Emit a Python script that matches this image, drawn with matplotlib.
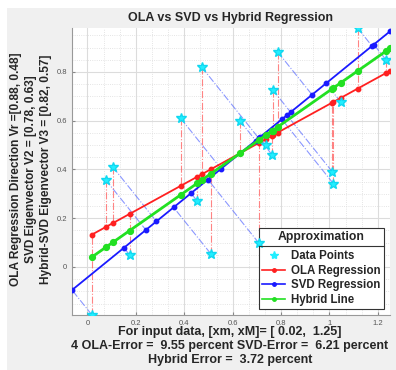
import numpy as np
import matplotlib.pyplot as plt
from matplotlib.ticker import MultipleLocator, AutoMinorLocator
from matplotlib.lines import Line2D
from matplotlib.patches import Rectangle

plt.rcParams['font.family'] = ['Liberation Sans', 'DejaVu Sans']

# data points
x_data = [0.019, 0.075, 0.105, 0.174, 0.385, 0.454, 0.472, 0.509, 0.631, 0.709,
          0.736, 0.763, 0.765, 0.786, 1.012, 1.016, 1.048, 1.116, 1.234]
y_data = [-0.197, 0.358, 0.410, 0.050, 0.610, 0.270, 0.820, 0.055, 0.598, 0.097,
          0.501, 0.460, 0.727, 0.882, 0.390, 0.342, 0.675, 0.980, 0.849]

x_range = [0.02, 1.25]
v_ola = [0.88, 0.48]
v_svd = [0.78, 0.63]
v_hyb = [0.82, 0.57]
err_ola = 9.55
err_svd = 6.21
err_hyb = 3.72

txt_col = '#262626'

x = np.array(x_data)
y = np.array(y_data)
cx, cy = x.mean(), y.mean()

# OLA and hybrid lines: points at every data x plus the end of the range
xs = np.sort(np.append(x, x_range[1]))
y_ola = cy + v_ola[1] / v_ola[0] * (xs - cx)
y_hyb = cy + v_hyb[1] / v_hyb[0] * (xs - cx)

# SVD: orthogonal projections of the points onto the eigenvector line
d = np.array(v_svd) / np.hypot(*v_svd)
t = (x - cx) * d[0] + (y - cy) * d[1]
px = cx + t * d[0]
py = cy + t * d[1]
sx = np.sort(np.append(px, x_range[1]))
sy = cy + v_svd[1] / v_svd[0] * (sx - cx)

fig = plt.figure(figsize=(3.96, 3.70), dpi=100)
fig.patch.set_facecolor('white')
fig.add_artist(Rectangle((7 / 396, 0), 1, 1 - 8 / 370, transform=fig.transFigure,
                         facecolor='#f0f0f0', edgecolor='none', zorder=-10))

ax = fig.add_axes([72 / 396, 55 / 370, 318 / 396, 287 / 370])
ax.set_facecolor('white')

# connectors
for i in range(len(x)):
    ax.plot([x[i], x[i]], [y[i], cy + v_ola[1] / v_ola[0] * (x[i] - cx)], '-.',
            color='#ff5050', alpha=0.7, lw=0.8, zorder=2)
    ax.plot([x[i], px[i]], [y[i], py[i]], '-.', color='#5a6cff', alpha=0.7, lw=0.8, zorder=2)

ax.plot(xs, y_ola, '-o', color='#ff2020', lw=1.3, ms=3.2, zorder=4)
ax.plot(sx, sy, '-o', color='#1a1aff', lw=1.3, ms=3.2, zorder=4)
ax.plot(xs, y_hyb, '-o', color='#22e022', lw=2.0, ms=4.2, zorder=5)
ax.plot(x, y, '*', color='#22eeff', ms=7, markeredgecolor='#10d8f0', zorder=6)

ax.set_xlim(px.min(), x_range[1])
ax.set_ylim(y.min(), y.max())
ax.xaxis.set_major_locator(MultipleLocator(0.2))
ax.yaxis.set_major_locator(MultipleLocator(0.2))
ax.xaxis.set_minor_locator(AutoMinorLocator(3))
ax.yaxis.set_minor_locator(AutoMinorLocator(4))
ax.grid(True, which='major', color='#dcdcdc', lw=0.8)
ax.grid(True, which='minor', color='#dcdcdc', lw=0.6, ls=':')
ax.set_axisbelow(True)
ax.tick_params(which='both', direction='in', labelsize=5.5, labelcolor='#555555',
               color='#888888', length=2)
ax.tick_params(which='minor', length=0)
for s in ['top', 'right']:
    ax.spines[s].set_visible(False)
for s in ['left', 'bottom']:
    ax.spines[s].set_color('#999999')
ax.xaxis.set_major_formatter(plt.FuncFormatter(lambda v, p: '%g' % round(v, 2)))
ax.yaxis.set_major_formatter(plt.FuncFormatter(lambda v, p: '%g' % round(v, 2)))

ax.set_title('OLA vs SVD vs Hybrid Regression', fontsize=9, fontweight='bold',
             color=txt_col, pad=5)

ylab = ('OLA Regression Direction Vr =[%.2f, %.2f]\n'
        'SVD Eigenvector V2 = [%.2f, %.2f]\n'
        'Hybrid-SVD Eigenvector V3 = [%.2f, %.2f]'
        % (v_ola[0], v_ola[1], v_svd[0], v_svd[1], v_hyb[0], v_hyb[1]))
fig.text(31 / 396, 1 - 169 / 370, ylab, rotation=90, ha='center', va='center',
         multialignment='center', fontsize=8.6, fontweight='bold', color=txt_col,
         linespacing=1.3)

xlab = ('For input data, [xm, xM]= [ %.2f,  %.2f]\n'
        '4 OLA-Error =  %.2f percent SVD-Error =  %.2f percent\n'
        'Hybrid Error =  %.2f percent'
        % (x_range[0], x_range[1], err_ola, err_svd, err_hyb))
fig.text(230 / 396, 1 - 326 / 370, xlab, ha='center', va='top', multialignment='center',
         fontsize=9.0, fontweight='bold', color=txt_col, linespacing=1.2)

handles = [
    Line2D([], [], ls='none', marker='*', color='#22eeff', ms=6),
    Line2D([], [], color='#ff2020', marker='o', ms=2.5, lw=1.2),
    Line2D([], [], color='#1a1aff', marker='o', ms=2.5, lw=1.2),
    Line2D([], [], color='#22e022', marker='o', ms=2.5, lw=1.2),
]
labels = ['Data Points', 'OLA Regression', 'SVD Regression', 'Hybrid Line']
leg = ax.legend(handles, labels, title='Approximation', loc='lower right',
                prop={'weight': 'bold', 'size': 8.3}, fancybox=False, framealpha=1,
                edgecolor='#333333', borderaxespad=0.5, handlelength=2.0,
                labelspacing=0.22, borderpad=0.3, handletextpad=0.5)
leg.get_title().set_fontweight('bold')
leg.get_title().set_fontsize(8.8)
leg.get_title().set_color(txt_col)
for t_ in leg.get_texts():
    t_.set_color(txt_col)
leg.get_frame().set_linewidth(0.8)
leg._legend_box.sep = 5

fig.canvas.draw()
lb = leg.get_window_extent()
tb = leg.get_title().get_window_extent()
W, H = fig.bbox.width, fig.bbox.height
yy = (tb.y0 - 2.5) / H
fig.add_artist(Line2D([lb.x0 / W, lb.x1 / W], [yy, yy], color='#333333', lw=0.8,
                      transform=fig.transFigure))

fig.savefig('out.png', dpi=100)
